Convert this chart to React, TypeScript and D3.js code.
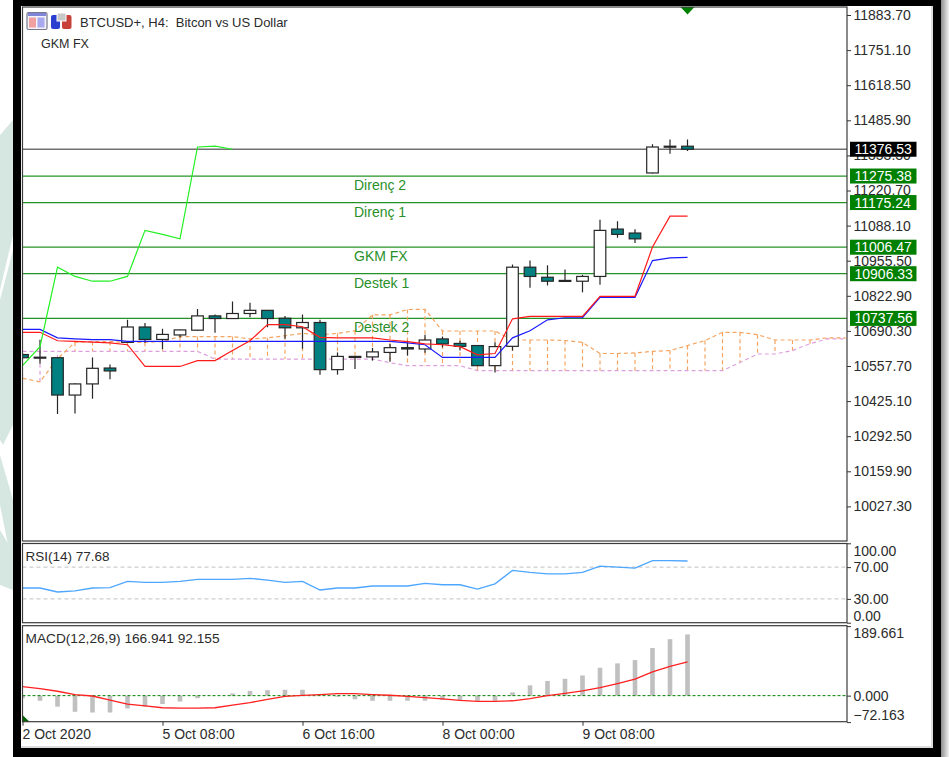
import React, { useRef, useEffect } from "react";
import * as d3 from "d3";

// candles, H4 bars
const opens = [10601, 10589, 10589, 10448, 10490, 10550, 10647, 10705, 10658, 10675, 10693, 10747, 10737, 10756, 10768, 10738, 10702, 10722, 10544, 10592, 10592, 10609, 10627, 10622, 10660, 10643, 10635, 10559, 10632, 10931, 10893, 10881, 10878, 10896, 11075, 11060, 11287, 11385, 11388];
const highs = [10608, 10657, 10591, 10493, 10590, 10563, 10732, 10720, 10698, 10695, 10773, 10752, 10801, 10797, 10769, 10747, 10752, 10732, 10609, 10594, 10626, 10641, 10653, 10676, 10669, 10653, 10636, 10647, 10941, 10956, 10938, 10922, 10902, 11110, 11105, 11074, 11395, 11413, 11413];
const lows = [10582, 10566, 10376, 10378, 10434, 10508, 10646, 10646, 10622, 10665, 10691, 10683, 10735, 10742, 10704, 10661, 10623, 10525, 10525, 10546, 10578, 10574, 10597, 10608, 10628, 10616, 10558, 10533, 10616, 10853, 10862, 10877, 10836, 10865, 11042, 11022, 11285, 11360, 11370];
const closes = [10589, 10591, 10448, 10490, 10549, 10539, 10705, 10658, 10677, 10694, 10747, 10737, 10756, 10768, 10737, 10702, 10722, 10544, 10594, 10594, 10611, 10627, 10622, 10656, 10641, 10632, 10559, 10631, 10931, 10896, 10878, 10878, 10896, 11070, 11055, 11038, 11385, 11388, 11376.53];

// ichimoku
const tenkan = [10685, 10685, 10653, 10651, 10648, 10645, 10638, 10556, 10556, 10556, 10578, 10578, 10616, 10653, 10714, 10714, 10706, 10666, 10664, 10664, 10664, 10656, 10650, 10641, 10638, 10631, 10600, 10605, 10736, 10745, 10745, 10745, 10745, 10821, 10821, 10821, 11007, 11124, 11124];
const kijun = [10696, 10696, 10664, 10660, 10657, 10657, 10651, 10651, 10651, 10651, 10651, 10651, 10651, 10651, 10651, 10651, 10651, 10651, 10651, 10651, 10651, 10651, 10645, 10638, 10590, 10590, 10590, 10590, 10664, 10691, 10732, 10740, 10740, 10817, 10817, 10817, 10956, 10966, 10968];
const senkouA = [10511, 10498, 10585, 10647, 10650, 10650, 10647, 10647, 10650, 10669, 10669, 10669, 10669, 10660, 10664, 10672, 10681, 10676, 10681, 10691, 10751, 10751, 10771, 10772, 10690, 10690, 10690, 10690, 10656, 10656, 10656, 10654, 10647, 10605, 10605, 10607, 10613, 10616, 10635, 10654, 10685, 10685, 10676, 10656, 10656, 10656, 10664, 10664];
const senkouB = [10613, 10613, 10613, 10613, 10613, 10613, 10613, 10613, 10613, 10613, 10613, 10584, 10584, 10584, 10584, 10584, 10584, 10584, 10584, 10584, 10584, 10570, 10559, 10559, 10559, 10559, 10540, 10540, 10540, 10540, 10540, 10540, 10540, 10540, 10540, 10540, 10540, 10540, 10540, 10540, 10540, 10571, 10603, 10603, 10616, 10642, 10660, 10660];

// oscillators
const rsi = [43.7, 43.7, 38.7, 40, 43.7, 44.1, 52, 50.8, 50.8, 52, 54.5, 54.5, 54.5, 55.8, 53.7, 50.8, 52, 41.2, 43.7, 43.7, 46.2, 46.2, 46.2, 49.5, 47.8, 47.8, 42.4, 49, 65.8, 63.3, 61.6, 61.6, 63.3, 71.2, 70, 68.7, 78.3, 78.3, 77.68];
const macdHist = [-7, -14, -30, -44, -46, -46, -35, -30, -23, -16, -7, 0, 6, 13, 15, 16, 16, -1, -3, -10, -14, -14, -14, -14, -12, -12, -14, -14, 9, 28, 40, 46, 55, 76, 88, 97, 130, 154, 166.941];
const macdSignal = [24.5, 19, 12, 3, -1, -12, -23, -28, -33, -34, -34, -33, -26, -19, -10, -2, 1, 3, 5.5, 5.5, 3, 1, -2, -5.5, -9, -13, -15.5, -15.5, -14, -8, 0, 6, 13, 22, 33, 45, 65, 80, 92.155];

// axes and levels
const priceTicks = [11883.7, 11751.1, 11618.5, 11485.9, 11353.3, 11220.7, 11088.1, 10955.5, 10822.9, 10690.3, 10557.7, 10425.1, 10292.5, 10159.9, 10027.3];
const rsiTicks = [100, 70, 30, 0];
const macdTicks = [189.661, 0, -72.163];
const timeBars = [0, 8, 16, 24, 32];
const timeLabels = ["2 Oct 2020", "5 Oct 08:00", "6 Oct 16:00", "8 Oct 00:00", "9 Oct 08:00"];
const levelPrices = [11275.38, 11175.24, 11006.47, 10906.33, 10737.56];
const levelNames = ["Direnç 2", "Direnç 1", "GKM FX", "Destek 1", "Destek 2"];
const lastPrice = 11376.53;

const FONT = "'Liberation Sans', Arial, sans-serif";
const INK = "#2b2b2b";
const TEAL = "#008080";
const GREEN = "#008000";

export default function App() {
  const svgRef = useRef<SVGSVGElement>(null);

  useEffect(() => {
    const svg = d3.select(svgRef.current).html("");
    const left = 22.5;
    const right = 847;

    // backdrop: watermark bits, window frame
    svg.append("rect").attr("width", 949).attr("height", 757).attr("fill", "#ffffff");
    const pale = "#d6e7e1";
    [
      "M0,135 L13,120 L13,235 L0,290 Z",
      "M0,300 L13,250 L13,425 L3,445 L0,440 Z",
      "M0,455 L13,500 L13,570 L0,505 Z",
      "M0,530 L13,552 L13,590 L0,585 Z",
    ].forEach((d) => svg.append("path").attr("d", d).attr("fill", pale));
    const shade = svg.append("defs").append("linearGradient").attr("id", "shade");
    shade.append("stop").attr("offset", "0").attr("stop-color", "#8f8f8f");
    shade.append("stop").attr("offset", "1").attr("stop-color", "#f2f2f2");
    svg.append("rect").attr("x", 941).attr("y", 0).attr("width", 8).attr("height", 757).attr("fill", "url(#shade)");
    svg.append("rect").attr("x", 13).attr("y", 0).attr("width", 928).attr("height", 757).attr("fill", "#000");
    svg.append("rect").attr("x", 21).attr("y", 6).attr("width", 912).attr("height", 742).attr("fill", "#fff");
    svg.append("rect").attr("x", 931).attr("y", 6).attr("width", 2).attr("height", 742).attr("fill", "#dcdcdc");
    svg.append("rect").attr("x", 21).attr("y", 746).attr("width", 912).attr("height", 2).attr("fill", "#dcdcdc");

    const x = d3.scaleLinear().domain([0, 47]).range([22.5, 845]);
    const y = d3.scaleLinear().domain([11883.7, 10027.3]).range([15, 506.4]);
    const yRsi = d3.scaleLinear().domain([100, 0]).range([543.3, 622.7]);
    const yMacd = d3.scaleLinear().domain([189.661, -72.163]).range([626.1, 722.1]);

    const clip = (id: string, top: number, bottom: number) =>
      svg.append("clipPath").attr("id", id).append("rect")
        .attr("x", left).attr("y", top).attr("width", right - left).attr("height", bottom - top);
    clip("main", 7, 541);
    clip("rsi", 543.5, 622.7);
    clip("macd", 625.7, 721.7);

    const main = svg.append("g").attr("clip-path", "url(#main)");

    // price levels
    main.selectAll(".level").data(levelPrices).enter().append("line")
      .attr("x1", left).attr("x2", right)
      .attr("y1", (d) => y(d)).attr("y2", (d) => y(d))
      .attr("stroke", GREEN).attr("stroke-opacity", 0.85).attr("stroke-width", 1.2);
    main.append("line")
      .attr("x1", left).attr("x2", right).attr("y1", y(lastPrice)).attr("y2", y(lastPrice))
      .attr("stroke", "#707070").attr("stroke-width", 1.5);

    // cloud
    senkouA.forEach((a, i) => {
      const b = senkouB[i];
      main.append("line")
        .attr("x1", x(i)).attr("x2", x(i)).attr("y1", y(a)).attr("y2", y(b))
        .attr("stroke", a >= b ? "#f4a460" : "#dda0dd")
        .attr("stroke-width", 1.2).attr("stroke-dasharray", "4,3");
    });
    const bandLine = (values: number[], scale: d3.ScaleLinear<number, number>) =>
      d3.line<number>().x((d, i) => x(i)).y((d) => scale(d))(values);
    main.append("path").attr("d", bandLine(senkouB, y)).attr("fill", "none")
      .attr("stroke", "#dda0dd").attr("stroke-width", 1.2).attr("stroke-dasharray", "4,3");
    main.append("path").attr("d", bandLine(senkouA, y)).attr("fill", "none")
      .attr("stroke", "#f4a460").attr("stroke-width", 1.2).attr("stroke-dasharray", "4,3");

    // candles
    closes.forEach((c, i) => {
      const o = opens[i];
      const up = c >= o;
      const top = y(Math.max(o, c));
      const h = Math.max(Math.abs(y(o) - y(c)), 1);
      main.append("line")
        .attr("x1", x(i)).attr("x2", x(i)).attr("y1", y(highs[i])).attr("y2", y(lows[i]))
        .attr("stroke", "#262626").attr("stroke-width", 1.2);
      main.append("rect")
        .attr("x", x(i) - 5.8).attr("y", top).attr("width", 11.6).attr("height", h)
        .attr("fill", up ? "#fff" : TEAL)
        .attr("stroke", "#262626").attr("stroke-width", 1.2);
    });

    // ichimoku lines, chikou is the close moved back 26 bars
    const chikou = closes.slice(26);
    main.append("path").attr("d", bandLine(kijun, y)).attr("fill", "none").attr("stroke", "#1a1aff").attr("stroke-width", 1.2);
    main.append("path").attr("d", bandLine(tenkan, y)).attr("fill", "none").attr("stroke", "#ff1a1a").attr("stroke-width", 1.2);
    main.append("path").attr("d", bandLine(chikou, y)).attr("fill", "none").attr("stroke", "#22f022").attr("stroke-width", 1.2);

    // level names
    main.selectAll(".levelName").data(levelNames).enter().append("text")
      .attr("x", 354).attr("y", (d, i) => y(levelPrices[i]) + 14)
      .attr("font-family", FONT).attr("font-size", 14).attr("fill", "#2a8f2a")
      .text((d) => d);

    // signal arrow over the top edge
    const arrow = d3.path();
    arrow.moveTo(x(38) - 7, 7);
    arrow.lineTo(x(38) + 7, 7);
    arrow.lineTo(x(38), 14.5);
    arrow.closePath();
    svg.append("path").attr("d", arrow.toString()).attr("fill", GREEN);

    // rsi pane
    const rsiPane = svg.append("g").attr("clip-path", "url(#rsi)");
    [70, 30].forEach((v) =>
      rsiPane.append("line").attr("x1", left).attr("x2", right).attr("y1", yRsi(v)).attr("y2", yRsi(v))
        .attr("stroke", "#c0c0c0").attr("stroke-dasharray", "4,3")
    );
    rsiPane.append("path").attr("d", bandLine(rsi, yRsi)).attr("fill", "none")
      .attr("stroke", "#4da6ff").attr("stroke-width", 1.3);

    // macd pane
    const macdPane = svg.append("g").attr("clip-path", "url(#macd)");
    macdPane.selectAll(".hist").data(macdHist).enter().append("rect")
      .attr("x", (d, i) => x(i) - 2.3).attr("width", 4.6)
      .attr("y", (d) => Math.min(yMacd(d), yMacd(0)))
      .attr("height", (d) => Math.abs(yMacd(d) - yMacd(0)))
      .attr("fill", "#c0c0c0");
    macdPane.append("line").attr("x1", left).attr("x2", right).attr("y1", yMacd(0)).attr("y2", yMacd(0))
      .attr("stroke", GREEN).attr("stroke-dasharray", "3,2");
    macdPane.append("path").attr("d", bandLine(macdSignal, yMacd)).attr("fill", "none")
      .attr("stroke", "#ff2020").attr("stroke-width", 1.3);
    const corner = d3.path();
    corner.moveTo(left, 715);
    corner.lineTo(left + 7, 721.7);
    corner.lineTo(left, 721.7);
    corner.closePath();
    svg.append("path").attr("d", corner.toString()).attr("fill", "#006400");

    // pane frames
    [[7, 541], [543.5, 622.7], [625.7, 721.7]].forEach(([t, b]) =>
      svg.append("rect").attr("x", left).attr("y", t).attr("width", right - left).attr("height", b - t)
        .attr("fill", "none").attr("stroke", "#3c3c3c").attr("stroke-width", 1.2)
    );

    // axes
    const styleAxis = (g: any) => {
      g.select(".domain").remove();
      g.selectAll("line").attr("stroke", "#333");
      g.selectAll("text").attr("font-family", FONT).attr("font-size", 14).attr("fill", INK);
    };
    svg.append("g").attr("transform", `translate(${right},0)`)
      .call(d3.axisRight(y).tickValues(priceTicks).tickSize(4).tickPadding(2.5).tickFormat(d3.format(".2f")))
      .call(styleAxis);
    const rsiAxis = svg.append("g").attr("transform", `translate(${right},0)`)
      .call(d3.axisRight(yRsi).tickValues(rsiTicks).tickSize(4).tickPadding(2.5).tickFormat(d3.format(".2f")))
      .call(styleAxis);
    rsiAxis.selectAll("text").attr("transform", (d: any) => (d === 100 ? "translate(0,7.5)" : d === 0 ? "translate(0,-7)" : null));
    const macdAxis = svg.append("g").attr("transform", `translate(${right},0)`)
      .call(d3.axisRight(yMacd).tickValues(macdTicks).tickSize(4).tickPadding(2.5).tickFormat(d3.format(".3f")))
      .call(styleAxis);
    macdAxis.selectAll("text").attr("transform", (d: any) => (d > 100 ? "translate(0,7)" : d < 0 ? "translate(0,-7)" : null));
    const timeAxis = svg.append("g").attr("transform", "translate(0,721.7)")
      .call(d3.axisBottom(x).tickValues(timeBars).tickSize(4).tickPadding(3).tickFormat((d, i) => timeLabels[i]))
      .call(styleAxis);
    timeAxis.selectAll("text").attr("text-anchor", "start").attr("dx", -0.5);

    // value tags
    const tag = (value: number, fill: string) => {
      svg.append("rect").attr("x", 850).attr("y", y(value) - 7.5).attr("width", 66.5).attr("height", 15).attr("fill", fill);
      svg.append("text").attr("x", 854.5).attr("y", y(value)).attr("dy", "0.36em")
        .attr("font-family", FONT).attr("font-size", 14).attr("fill", "#fff")
        .text(value.toFixed(2));
    };
    levelPrices.forEach((p) => tag(p, GREEN));
    tag(lastPrice, "#000");

    // titles
    const label = (tx: number, ty: number, s: string, size = 13.5) =>
      svg.append("text").attr("x", tx).attr("y", ty).attr("font-family", FONT)
        .attr("font-size", size).attr("fill", INK).attr("xml:space", "preserve").text(s);
    label(80, 26.5, "BTCUSD+, H4:  Bitcon vs US Dollar", 13);
    label(41, 47.5, "GKM FX", 12.5);
    label(25.5, 560.5, "RSI(14) 77.68");
    label(25.5, 642.5, "MACD(12,26,9) 166.941 92.155", 13.7);

    // toolbar icons
    const icon = svg.append("g");
    icon.append("rect").attr("x", 27).attr("y", 12.5).attr("width", 20).attr("height", 17).attr("rx", 1.5)
      .attr("fill", "#f2f2f8").attr("stroke", "#77778c").attr("stroke-width", 1.2);
    icon.append("rect").attr("x", 28).attr("y", 13).attr("width", 18).attr("height", 3).attr("fill", "#7f86d8");
    icon.append("rect").attr("x", 29).attr("y", 17.5).attr("width", 7).attr("height", 10).attr("fill", "#f0a0a0");
    icon.append("rect").attr("x", 37.5).attr("y", 17.5).attr("width", 7).attr("height", 10).attr("fill", "#a8a8ee");
    icon.append("rect").attr("x", 51).attr("y", 15).attr("width", 9).attr("height", 14).attr("rx", 2).attr("fill", "#2a3fd0");
    icon.append("rect").attr("x", 62).attr("y", 15).attr("width", 9.5).attr("height", 14).attr("rx", 2).attr("fill", "#c8403a");
    icon.append("rect").attr("x", 57).attr("y", 13).attr("width", 9).attr("height", 8).attr("fill", "#c8c8c8").attr("stroke", "#fff");
  }, []);

  return <svg ref={svgRef} width={949} height={757} style={{ position: "absolute", left: 0, top: 0 }} />;
}
